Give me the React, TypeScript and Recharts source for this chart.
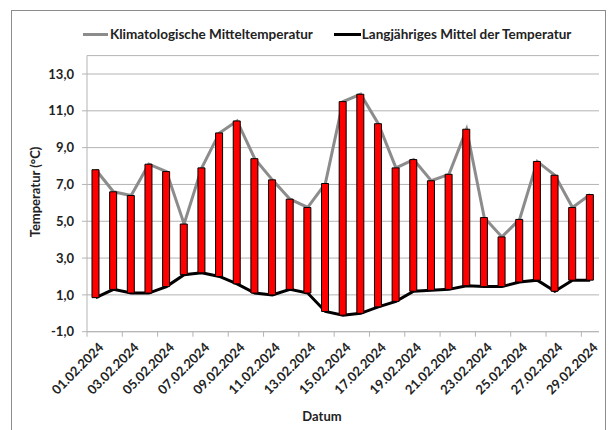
import { ComposedChart, Bar, Line, XAxis, YAxis, CartesianGrid, Label } from 'recharts';

const dates = [
  '01.02.2024', '02.02.2024', '03.02.2024', '04.02.2024', '05.02.2024', '06.02.2024', '07.02.2024',
  '08.02.2024', '09.02.2024', '10.02.2024', '11.02.2024', '12.02.2024', '13.02.2024', '14.02.2024',
  '15.02.2024', '16.02.2024', '17.02.2024', '18.02.2024', '19.02.2024', '20.02.2024', '21.02.2024',
  '22.02.2024', '23.02.2024', '24.02.2024', '25.02.2024', '26.02.2024', '27.02.2024', '28.02.2024',
  '29.02.2024',
];

// Klimatologische Mitteltemperatur (grey line)
const klima = [
  7.8, 6.6, 6.4, 8.1, 7.7, 4.85, 7.9, 9.8, 10.45, 8.4, 7.25, 6.2, 5.75, 7.05, 11.5,
  11.9, 10.3, 7.9, 8.35, 7.2, 7.55, 10.0, 5.2, 4.15, 5.1, 8.25, 7.5, 5.75, 6.45,
];

// Langjähriges Mittel der Temperatur (black line)
const langj = [
  0.85, 1.3, 1.1, 1.1, 1.45, 2.1, 2.2, 2.0, 1.6, 1.1, 1.0, 1.3, 1.1, 0.1, -0.1,
  0.0, 0.35, 0.65, 1.2, 1.25, 1.3, 1.5, 1.45, 1.45, 1.7, 1.8, 1.2, 1.8, 1.8,
];

const yTicks = [-1, 1, 3, 5, 7, 9, 11, 13];

const data = dates.map((d, i) => ({
  date: d,
  klima: klima[i],
  langj: langj[i],
  range: [Math.min(klima[i], langj[i]), Math.max(klima[i], langj[i])],
}));

const FONT = 'Lato, "Open Sans", sans-serif';
const AXIS_GREY = '#b4b4b4';
const BAND = 512 / 29;

const DateTick = (props: any) => {
  const { x, y, payload } = props;
  return (
    <g>
      <line x1={x - BAND / 2} y1={y - 8} x2={x - BAND / 2} y2={y - 3} stroke={AXIS_GREY} />
      <text
        x={x + 5}
        y={y + 5}
        transform={`rotate(-45, ${x + 5}, ${y + 5})`}
        textAnchor="end"
        dominantBaseline="central"
        fontFamily={FONT}
        fontWeight="bold"
        fontSize={13}
        fill="#222"
      >
        {payload.value}
      </text>
    </g>
  );
};

const fmt = (v: number) => v.toFixed(1).replace('.', ',');

export default function App() {
  return (
    <div
      style={{
        position: 'relative',
        marginLeft: 3,
        marginTop: 2,
        width: 593,
        height: 430,
        border: '1px solid #8c8c8c',
        background: '#fff',
      }}
    >
      <div
        style={{
          position: 'absolute',
          left: 71,
          top: 15,
          display: 'flex',
          alignItems: 'center',
          fontFamily: FONT,
          fontWeight: 'bold',
          fontSize: 13.5,
          color: '#222',
          whiteSpace: 'nowrap',
        }}
      >
        <span style={{ display: 'inline-block', width: 25, height: 3, background: '#8c8c8c', marginRight: 2 }} />
        <span>Klimatologische Mitteltemperatur</span>
        <span style={{ display: 'inline-block', width: 27, height: 3, background: '#000', marginLeft: 21, marginRight: 1 }} />
        <span>Langjähriges Mittel der Temperatur</span>
      </div>
      <ComposedChart
        width={593}
        height={420}
        data={data}
        margin={{ top: 44.6, right: 6, left: 0, bottom: 19.3 }}
        barSize={7}
      >
        <CartesianGrid vertical={false} stroke={AXIS_GREY} />
        <XAxis
          dataKey="date"
          interval={1}
          height={80}
          tickLine={false}
          axisLine={{ stroke: AXIS_GREY }}
          tick={<DateTick />}
        >
          <Label
            content={() => (
              <text x={310} y={410} textAnchor="middle" fontFamily={FONT} fontWeight="bold" fontSize={13} fill="#222">
                Datum
              </text>
            )}
          />
        </XAxis>
        <YAxis
          width={75}
          domain={[-1, 14]}
          ticks={yTicks}
          interval={0}
          tickFormatter={fmt}
          tickSize={5}
          tickMargin={8}
          axisLine={{ stroke: AXIS_GREY }}
          tickLine={{ stroke: AXIS_GREY }}
          tick={{ fontFamily: FONT, fontWeight: 'bold', fontSize: 13, fill: '#222' }}
        >
          <Label
            content={() => (
              <text
                x={23}
                y={181}
                transform="rotate(-90, 23, 181)"
                textAnchor="middle"
                dominantBaseline="central"
                fontFamily={FONT}
                fontWeight="bold"
                fontSize={13}
                fill="#222"
              >
                Temperatur (°C)
              </text>
            )}
          />
        </YAxis>
        <Line
          dataKey="klima"
          name="Klimatologische Mitteltemperatur"
          stroke="#8c8c8c"
          strokeWidth={3}
          dot={false}
          isAnimationActive={false}
          zIndex={250}
        />
        <Line
          dataKey="langj"
          name="Langjähriges Mittel der Temperatur"
          stroke="#000"
          strokeWidth={3}
          dot={false}
          isAnimationActive={false}
          zIndex={260}
        />
        <Bar dataKey="range" fill="#ff0000" stroke="#000" strokeWidth={1} isAnimationActive={false} zIndex={300} />
      </ComposedChart>
    </div>
  );
}
